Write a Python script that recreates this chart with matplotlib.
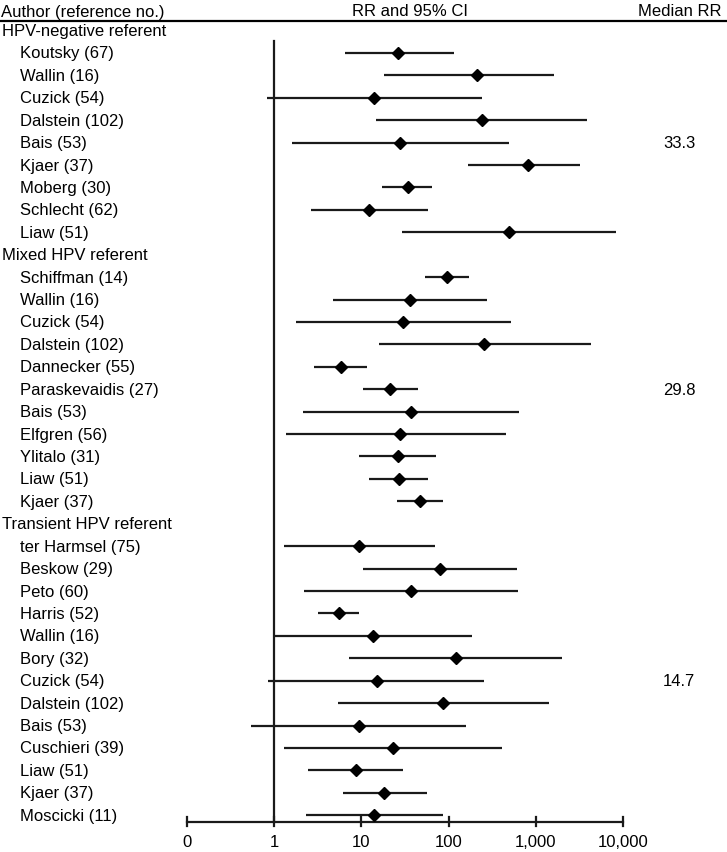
import matplotlib
matplotlib.use("Agg")
import matplotlib.pyplot as plt
import matplotlib.transforms as mtransforms
import numpy as np

plt.rcParams['font.family'] = ['Liberation Sans', 'DejaVu Sans']

# ---- data ----
groups = ["HPV-negative referent", "Mixed HPV referent", "Transient HPV referent"]
medians = ["33.3", "29.8", "14.7"]
median_row_in_group = [4, 5, 6]  # index of study row where median text sits

studies_neg = ["Koutsky (67)", "Wallin (16)", "Cuzick (54)", "Dalstein (102)", "Bais (53)",
               "Kjaer (37)", "Moberg (30)", "Schlecht (62)", "Liaw (51)"]
rr_neg = [26.1, 212, 14.1, 240, 27.5, 811, 34, 12.2, 495]
lo_neg = [6.5, 18.0, 0.83, 14.8, 1.61, 167, 17.4, 2.62, 29.5]
hi_neg = [116, 1627, 244, 3925, 491, 3260, 64, 58.2, 8450]

studies_mix = ["Schiffman (14)", "Wallin (16)", "Cuzick (54)", "Dalstein (102)", "Dannecker (55)",
               "Paraskevaidis (27)", "Bais (53)", "Elfgren (56)", "Ylitalo (31)", "Liaw (51)", "Kjaer (37)"]
rr_mix = [96, 36.1, 29.8, 258, 5.78, 21.3, 37.4, 27.7, 26.1, 27, 47.1]
lo_mix = [53.3, 4.72, 1.76, 15.8, 2.88, 10.3, 2.15, 1.36, 9.38, 12.1, 25.8]
hi_mix = [171, 277, 522, 4360, 11.7, 44.7, 650, 454, 72.4, 58.2, 85.8]

studies_tr = ["ter Harmsel (75)", "Beskow (29)", "Peto (60)", "Harris (52)", "Wallin (16)", "Bory (32)",
              "Cuzick (54)", "Dalstein (102)", "Bais (53)", "Cuschieri (39)", "Liaw (51)", "Kjaer (37)",
              "Moscicki (11)"]
rr_tr = [9.46, 79.9, 37.4, 5.48, 13.5, 121, 15, 87.1, 9.46, 22.9, 8.6, 18.3, 14.1]
lo_tr = [1.28, 10.3, 2.21, 3.2, 1.0, 7.26, 0.85, 5.39, 0.545, 1.28, 2.46, 6.15, 2.31]
hi_tr = [70.5, 617, 633, 9.31, 188, 1995, 254, 1437, 160, 415, 30, 56.2, 85.8]

tick_vals = [0.1, 1, 10, 100, 1000, 10000]
tick_labels = ["0", "1", "10", "100", "1,000", "10,000"]

all_groups = [
    (studies_neg, rr_neg, lo_neg, hi_neg),
    (studies_mix, rr_mix, lo_mix, hi_mix),
    (studies_tr, rr_tr, lo_tr, hi_tr),
]

# ---- figure ----
W, H = 727, 853
fig = plt.figure(figsize=(W / 100, H / 100), dpi=100)
ax = fig.add_axes([0, 0, 1, 1])
ax.set_xscale('log')
px_per_dec = 87.1
x1_px = 274.3
ax.set_xlim(10 ** (-x1_px / px_per_dec), 10 ** ((W - x1_px) / px_per_dec))
row_px = 22.42
row0_px = 31.5
ax.set_ylim((H - row0_px) / row_px, -row0_px / row_px)
ax.axis('off')

# blended transform: x in figure fraction, y in data rows
trans = mtransforms.blended_transform_factory(fig.transFigure, ax.transData)
fs = 12.0
lc = '#1a1a1a'

row = 0
for gi, (names, rr, lo, hi) in enumerate(all_groups):
    ax.text(2 / W, row, groups[gi], transform=trans, fontsize=fs, va='center', ha='left')
    row += 1
    for i, name in enumerate(names):
        ax.text(20 / W, row, name, transform=trans, fontsize=fs, va='center', ha='left')
        ax.plot([lo[i], hi[i]], [row, row], color=lc, lw=1.6, solid_capstyle='butt', zorder=2)
        ax.plot(rr[i], row, marker='D', color='black', ms=6.5, zorder=3)
        if i == median_row_in_group[gi]:
            ax.text(679 / W, row, medians[gi], transform=trans, fontsize=fs, va='center', ha='center')
        row += 1

last_row = row - 1
axis_y = last_row + (822.3 - 815.7) / row_px

# vertical reference line at 1
top_y = (42.3 - row0_px) / row_px
ax.plot([1, 1], [top_y, axis_y], color=lc, lw=1.6, zorder=1)

# x axis line with ticks
ax.plot([tick_vals[0], tick_vals[-1]], [axis_y, axis_y], color=lc, lw=1.6)
tick_len = 9 / row_px
for v, lab in zip(tick_vals, tick_labels):
    ax.plot([v, v], [axis_y - tick_len / 2, axis_y + tick_len / 2], color=lc, lw=1.6)
    ax.text(v, axis_y + 20 / row_px, lab, fontsize=fs, ha='center', va='center')

# header
fig.text(1 / W, 1 - 12 / H, "Author (reference no.)", fontsize=fs, ha='left', va='center')
fig.text(410.5 / W, 1 - 12 / H, "RR and 95% CI", fontsize=fs, ha='center', va='center')
fig.text(722 / W, 1 - 12 / H, "Median RR", fontsize=fs, ha='right', va='center')
fig.add_artist(plt.Line2D([0, 726 / W], [1 - 21.7 / H, 1 - 21.7 / H], color='black', lw=1.6,
                          transform=fig.transFigure))

fig.savefig("out.png", dpi=100)
